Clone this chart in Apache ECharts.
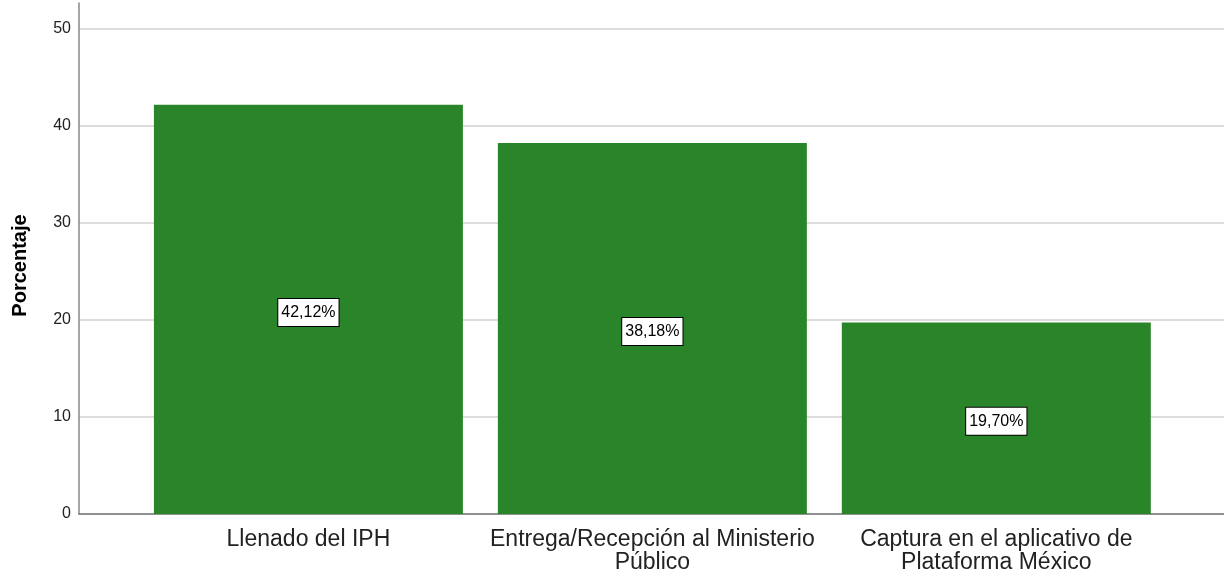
<!DOCTYPE html>
<html>
<head>
<meta charset="utf-8">
<script src="https://cdn.jsdelivr.net/npm/echarts@6/dist/echarts.min.js"></script>
<style>
    html, body { margin: 0; padding: 0; background: #fff; }
    #chart { width: 1224px; height: 575px; }
</style>
</head>
<body>
<div id="chart"></div>
<script type="text/javascript">
    // categorias y porcentajes
    var categories = ['Llenado del IPH', 'Entrega/Recepción al Ministerio\nPúblico', 'Captura en el aplicativo de\nPlataforma México'];
    var positions = [1, 2, 3];
    var percentages = [42.12, 38.18, 19.70];

    var chart = echarts.init(document.getElementById('chart'));

    var barData = [];
    for (var i = 0; i < positions.length; i++) {
        barData.push([positions[i], percentages[i]]);
    }

    var option = {
        animation: false,
        textStyle: { fontFamily: '"Liberation Sans", Arial, sans-serif' },
        grid: { left: 79, right: 0, top: 3, bottom: 61 },
        xAxis: {
            type: 'value',
            min: 0.333,
            max: 3.662,
            splitLine: { show: false },
            axisTick: { show: false },
            axisLine: { show: true, onZero: false, lineStyle: { color: '#777', width: 1.5 } },
            axisLabel: {
                customValues: positions,
                fontSize: 23,
                lineHeight: 23,
                color: '#222',
                margin: 14,
                formatter: function (v) {
                    var idx = positions.indexOf(Math.round(v));
                    return idx >= 0 ? categories[idx] : '';
                }
            }
        },
        yAxis: {
            type: 'value',
            min: 0,
            max: 52.6,
            interval: 10,
            name: 'Porcentaje',
            nameLocation: 'middle',
            nameGap: 49,
            nameTextStyle: { fontSize: 20, fontWeight: 'bold', color: '#000', padding: [0, 14, 0, 0] },
            axisLine: { show: true, lineStyle: { color: '#888', width: 1.5 } },
            axisTick: { show: false },
            axisLabel: {
                fontSize: 16,
                color: '#222',
                margin: 8,
                showMaxLabel: false
            },
            splitLine: { show: true, showMaxLine: false, lineStyle: { color: '#d2d2d2', width: 1.5 } }
        },
        series: [
            {
                type: 'bar',
                data: barData,
                barWidth: 309,
                itemStyle: { color: '#2a852a' },
                label: {
                    show: true,
                    position: 'inside',
                    offset: [0, 3],
                    fontSize: 16,
                    lineHeight: 18,
                    color: '#000',
                    backgroundColor: '#fff',
                    borderColor: '#000',
                    borderWidth: 1,
                    padding: [5, 3, 4, 3],
                    formatter: function (p) {
                        return p.value[1].toFixed(2).replace('.', ',') + '%';
                    }
                }
            }
        ]
    };

    chart.setOption(option);
</script>
</body>
</html>
